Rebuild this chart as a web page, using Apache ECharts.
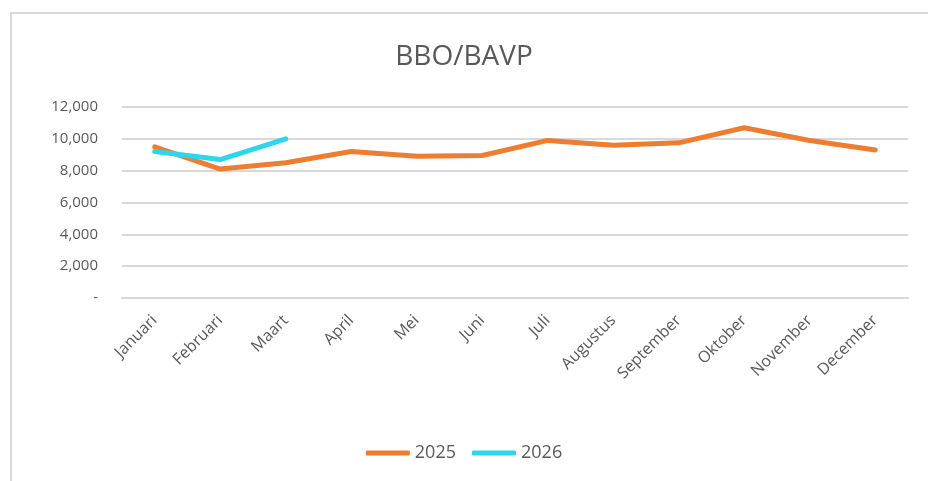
<head>
  <meta charset="UTF-8">
  <title>BBO/BAVP</title>
  <script src="https://cdn.jsdelivr.net/npm/echarts@6/dist/echarts.min.js" type="text/javascript" charset="utf-8"></script>
  <style>
    body { margin: 0; background: #fff; }
    #frame { position: absolute; left: 10px; top: 12px; width: 930px; height: 480px; border: 2px solid #d9d9d9; box-sizing: border-box; }
  </style>
</head>

<body>
  <div id="frame"></div>
  <div id="chart" style="position:absolute;left:0;top:0;width: 928px;height:481px;"></div>
  <script type="text/javascript">
    const maanden = ['Januari', 'Februari', 'Maart', 'April', 'Mei', 'Juni', 'Juli', 'Augustus', 'September', 'Oktober', 'November', 'December'];
    const waarden2025 = [9500, 8100, 8500, 9200, 8900, 8950, 9900, 9600, 9750, 10700, 9900, 9300];
    const waarden2026 = [9200, 8700, 10000];

    const font = '"Open Sans", sans-serif';
    const myChart = echarts.init(document.getElementById('chart'));
    const option = {
      animation: false,
      title: {
        text: 'BBO/BAVP',
        left: 'center',
        top: 38,
        textStyle: { fontFamily: font, fontSize: 28, fontWeight: 'normal', color: '#595959' }
      },
      legend: {
        bottom: 14,
        left: 'center',
        itemWidth: 44,
        itemHeight: 5,
        itemGap: 16,
        icon: 'roundRect',
        textStyle: { fontFamily: font, fontSize: 18, color: '#595959' },
        data: ['2025', '2026']
      },
      grid: { left: 122, right: 20, top: 107, bottom: 183, containLabel: false },
      xAxis: {
        type: 'category',
        data: maanden,
        boundaryGap: true,
        axisLine: { show: true, lineStyle: { color: '#d9d9d9', width: 2 } },
        axisTick: { show: false },
        axisLabel: { rotate: 45, fontFamily: font, fontSize: 16, color: '#595959', margin: 20, interval: 0 }
      },
      yAxis: {
        type: 'value',
        min: 0,
        max: 12000,
        interval: 2000,
        axisLine: { show: false },
        axisTick: { show: false },
        splitLine: { lineStyle: { color: '#d9d9d9', width: 2 } },
        axisLabel: {
          fontFamily: font, fontSize: 15, color: '#595959', margin: 24,
          formatter: v => v === 0 ? '-' : v.toLocaleString('en-US')
        }
      },
      series: [
        {
          name: '2025', type: 'line', data: waarden2025,
          symbol: 'none', lineStyle: { width: 5, color: '#ED7D31', cap: 'round' },
          itemStyle: { color: '#ED7D31' }
        },
        {
          name: '2026', type: 'line', data: waarden2026,
          symbol: 'none', lineStyle: { width: 5, color: '#2ED6EA', cap: 'round' },
          itemStyle: { color: '#2ED6EA' }
        }
      ]
    };
    myChart.setOption(option);
  </script>
</body>
